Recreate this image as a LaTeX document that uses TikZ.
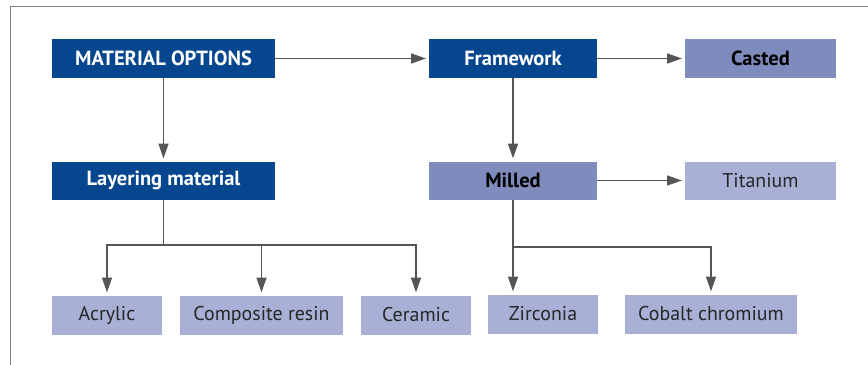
\documentclass[tikz,border=0pt]{standalone}
\usepackage{xcolor}
\usepackage{fontspec}
\setmainfont{PT Sans}
\usepackage{tikz}
\usetikzlibrary{calc}
\usetikzlibrary{arrows.meta}

\definecolor{darkblue}{HTML}{05468F}
\definecolor{midblue}{HTML}{7F8BBD}
\definecolor{paleblue}{HTML}{A8B0D6}
\definecolor{linegray}{HTML}{555555}

\tikzstyle{every node}=[font=\fontsize{17}{20}\selectfont, inner sep=0pt]
\tikzstyle{mainbox}=[fill=darkblue, text=white, font=\fontsize{17.5}{20}\selectfont\bfseries, minimum height=1.14cm]
\tikzstyle{kindbox}=[fill=midblue, text=black, font=\fontsize{17.5}{20}\selectfont\bfseries, minimum height=1.14cm]
\tikzstyle{itembox}=[fill=paleblue, text=black!85, minimum height=1.17cm]
\tikzstyle{link}=[linegray, line width=1pt]
\tikzstyle{arrow}=[link, -{Triangle[length=12.5pt,width=8.5pt]}, shorten >=2.5pt]

\begin{document}
\begin{tikzpicture}[x=0.03cm, y=-0.03cm]
            \useasboundingbox (0,0) rectangle (868,365);

            % frame
            \draw [gray, line width=1.4pt] (10.5,365) -- (10.5,6.5) -- (868,6.5);

            % top row
            \node [mainbox, minimum width=6.69cm] (options) at (163.5,58.5) {MATERIAL OPTIONS};
            \node [mainbox, minimum width=5.04cm] (framework) at (513,58.5) {Framework};
            \node [kindbox, minimum width=4.53cm] (casted) at (760.5,58.5) {Casted};

            % middle row
            \node [mainbox, minimum width=6.69cm] (layering) at (163.5,180.5) {Layering material};
            \node [kindbox, minimum width=5.04cm] (milled) at (513,180.5) {Milled};
            \node [itembox, minimum width=4.53cm, minimum height=1.14cm] (titanium) at (760.5,180.5) {Titanium};

            % bottom row
            \node [itembox, minimum width=3.3cm] (acrylic) at (107,315) {Acrylic};
            \node [itembox, minimum width=4.89cm] (composite) at (261.5,315) {Composite resin};
            \node [itembox, minimum width=3.3cm] (ceramic) at (416,315) {Ceramic};
            \node [itembox, minimum width=3.3cm] (zirconia) at (543,314) {Zirconia};
            \node [itembox, minimum width=5.16cm] (cobalt) at (711,314) {Cobalt chromium};

            \coordinate (lsplit) at (163.5,245);
            \coordinate (msplit) at (513,247);

            \draw [arrow] (options) -- (framework);
            \draw [arrow] (framework) -- (casted);
            \draw [arrow] (options) -- (layering);
            \draw [arrow] (framework) -- (milled);
            \draw [arrow] (milled) -- (titanium);

            \draw [link] (layering) -- (lsplit);
            \draw [arrow] (lsplit) -| (acrylic);
            \draw [arrow] (lsplit) -| (composite);
            \draw [arrow] (lsplit) -| (ceramic);

            \draw [link] (milled) -- (msplit);
            \draw [arrow] (msplit) -- (msplit |- zirconia.north);
            \draw [arrow] (msplit) -| (cobalt);
        \end{tikzpicture}
\end{document}
